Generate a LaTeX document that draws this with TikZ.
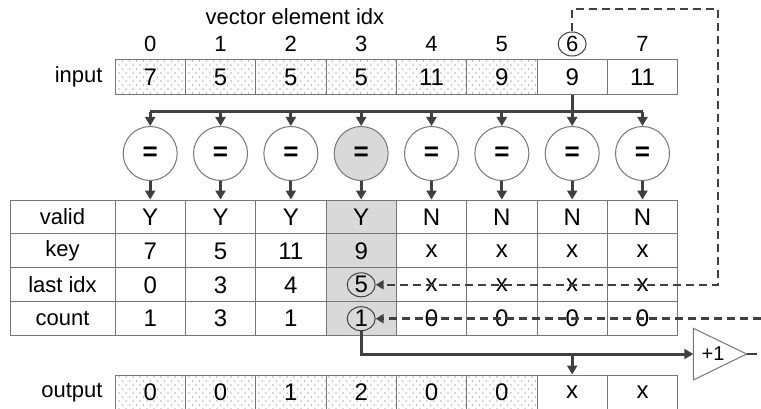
\documentclass[tikz,border=0pt]{standalone}
\usepackage{fontspec}
\setmainfont{Liberation Sans}
\usetikzlibrary{arrows.meta, patterns, shapes.geometric, backgrounds}
\definecolor{cline}{HTML}{404040}
\definecolor{cgrid}{HTML}{767676}
\definecolor{chigh}{HTML}{D9D9D9}
\definecolor{cdot}{HTML}{B4B4B4}
\pgfdeclarepatternformonly{griddots}{\pgfqpoint{-1pt}{-1pt}}{\pgfqpoint{6pt}{7pt}}{\pgfqpoint{7pt}{8pt}}{%
  \pgfpathcircle{\pgfqpoint{0pt}{0pt}}{0.8pt}%
  \pgfpathcircle{\pgfqpoint{3.5pt}{4pt}}{0.8pt}%
  \pgfusepath{fill}}
\tikzset{
  every picture/.style={x=1pt, y=-1pt, font=\fontsize{22pt}{26pt}\selectfont},
  cell/.style={draw=cgrid, line width=1pt, minimum width=70.33pt, minimum height=33.9pt, inner sep=0pt, font=\fontsize{24pt}{28pt}\selectfont},
  tall/.style={minimum height=35pt},
  rowlabel/.style={cell, minimum width=105pt, font=\fontsize{22pt}{26pt}\selectfont},
  compare/.style={circle, draw=cgrid, line width=1pt, minimum size=54pt, inner sep=0pt, font=\fontsize{26pt}{30pt}\selectfont\bfseries},
  ring/.style={ellipse, draw=cline, line width=1pt, minimum width=28pt, minimum height=24pt, inner sep=0pt},
  wire/.style={draw=cline, line width=3pt},
  arr/.style={-{Triangle[length=9pt, width=10pt]}},
  feedback/.style={draw=cline, line width=2.5pt, dash pattern=on 8pt off 5pt, -{Triangle[length=8pt, width=9pt]}},
}

\begin{document}
\begin{tikzpicture}
  \useasboundingbox (0,0) rectangle (761,409);
  % header and input vector
  \node (title) at (295,17) {vector element idx};
  \foreach \i/\dc in {0/none,1/none,2/none,3/none,4/none,5/none,6/cline,7/none}
    \node[ring, draw=\dc] (idx-\i) at ({150.2+70.33*\i},44) {\i};
  \node[anchor=east] (lbl-in) at (106,77) {input};
  \foreach \v [count=\i from 0] in {7,5,5,5,11,9,9,11}
    \node[cell, tall] (in-\i) at ({150.2+70.33*\i},77) {\v};
  % comparators
  \foreach \i/\fc in {0/white,1/white,2/white,3/chigh,4/white,5/white,6/white,7/white}
    \node[compare, fill=\fc] (eq-\i) at ({150.2+70.33*\i},153.5) {=};
  % result table
  \foreach \t [count=\r from 0] in {valid,key,last idx,count}
    \node[rowlabel] (lbl-\r) at (62.5,{217+33.9*\r}) {\t};
  \foreach \v [count=\i from 0] in {Y,Y,Y,Y,N,N,N,N}
    \node[cell] (valid-\i) at ({150.2+70.33*\i},217) {\v};
  \foreach \v [count=\i from 0] in {7,5,11,9,x,x,x,x}
    \node[cell] (key-\i) at ({150.2+70.33*\i},250.9) {\v};
  \foreach \v [count=\i from 0] in {0,3,4,5,x,x,x,x}
    \node[cell] (last-\i) at ({150.2+70.33*\i},284.8) {\v};
  \foreach \v [count=\i from 0] in {1,3,1,1,0,0,0,0}
    \node[cell] (cnt-\i) at ({150.2+70.33*\i},318.7) {\v};
  \node[ring] (ring-last) at (last-3) {};
  \node[ring] (ring-cnt) at (cnt-3) {};
  % output vector
  \node[anchor=east] (lbl-out) at (106,392.5) {output};
  \foreach \v [count=\i from 0] in {0,0,1,2,0,0,x,x}
    \node[cell, tall] (out-\i) at ({150.2+70.33*\i},392.5) {\v};
  \begin{scope}[on background layer]
    \fill[pattern=griddots, pattern color=cdot] (in-0.north west) rectangle (in-5.south east);
    \fill[pattern=griddots, pattern color=cdot] (out-0.north west) rectangle (out-5.south east);
    \fill[chigh] (valid-3.north west) rectangle (cnt-3.south east);
  \end{scope}
  % broadcast of element 6
  \coordinate (bus) at (0,112);
  \draw[wire] (in-6.south) -- (in-6.south |- bus);
  \draw[wire] (bus -| eq-0) -- (bus -| eq-7);
  \foreach \i in {0,...,7} {
    \draw[wire, arr] (bus -| eq-\i) -- (eq-\i.north);
    \draw[wire, arr] (eq-\i.south) -- (valid-\i.north);
  }
  % feedback paths
  \coordinate (loop-top) at (718,9);
  \draw[feedback] (idx-6.north) |- (loop-top) |- (ring-last.east);
  \coordinate (cnt-in) at (761,318.7);
  \draw[feedback] (cnt-in) -- (ring-cnt.east);
  % increment
  \coordinate (plus-in) at (693.3,354);
  \coordinate (plus-out) at (746.7,354);
  \draw[cgrid, line width=1pt] (693.3,328.3) -- (plus-out) -- (693.3,380) -- cycle;
  \node[font=\fontsize{20pt}{22pt}\selectfont] (plus) at (713,354) {+1};
  \draw[wire, arr] (ring-cnt.south) |- (plus-in);
  \draw[wire, arr] (out-6.north |- plus-in) -- (out-6.north);
  \draw[cline, line width=2pt] (plus-out) -- ++(10,0);
\end{tikzpicture}
\end{document}
